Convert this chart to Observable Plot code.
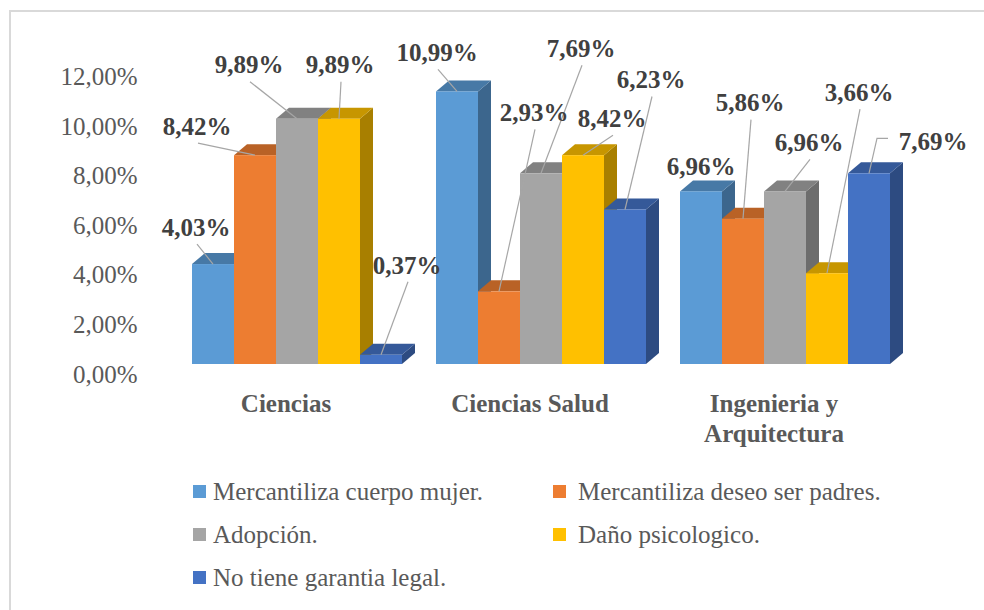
<!DOCTYPE html>
<html><head><meta charset="utf-8">
<script src="https://cdn.jsdelivr.net/npm/d3@7"></script>
<script src="https://cdn.jsdelivr.net/npm/@observablehq/plot@0.6"></script>
<style>
body{margin:0;background:#fff;width:984px;height:610px;overflow:hidden;position:relative;}
#frame{position:absolute;left:9px;top:10px;width:1000px;height:640px;border-top:2px solid #D9D9D9;border-left:2px solid #D9D9D9;}
#chart{position:absolute;left:0;top:0;}
#legend{position:absolute;left:0;top:0;font-family:"Times New Roman","Liberation Serif",Tinos,"DejaVu Serif",serif;font-size:25px;color:#595959;}
svg text{font-family:"Times New Roman","Liberation Serif",Tinos,"DejaVu Serif",serif;}
.item{position:absolute;white-space:nowrap;line-height:1;}
.sw{position:absolute;width:13px;height:13px;}
</style></head><body>
<div id="frame"></div>
<div id="chart"></div>
<div id="legend"></div>
<script>
const categories = ["Ciencias", "Ciencias Salud", "Ingenieria y Arquitectura"];
const categoryLabels = ["Ciencias", "Ciencias Salud", "Ingenieria y\nArquitectura"];
const series = ["Mercantiliza cuerpo mujer.", "Mercantiliza deseo ser padres.", "Adopción.", "Daño psicologico.", "No tiene garantia legal."];
const ciencias = [4.03, 8.42, 9.89, 9.89, 0.37];
const cienciasSalud = [10.99, 2.93, 7.69, 8.42, 6.23];
const ingenieria = [6.96, 5.86, 6.96, 3.66, 7.69];
const yTicks = [0, 2, 4, 6, 8, 10, 12];
const colors = ["#5B9BD5", "#ED7D31", "#A5A5A5", "#FFC000", "#4472C4"];

// label placement (pixel offsets from the top-front centre of each bar) and leader style
const labelOffsets = [
  [-17, -37], [-58, -29], [-48, -54], [1, -54], [26, -90],
  [-20, -39], [35, -179], [40, -125], [29, -37], [26, -130],
  [0, -25], [7, -116], [24, -49], [32, -181], [64, -32]
];
const leaderStyles = [
  "line", "line", "line", "line", "line",
  "line", "line", "line", "line", "line",
  "none", "line", "line", "line", "elbow"
];

const seriesValues = [ciencias, cienciasSalud, ingenieria];
const data = categories.flatMap((c, ci) => series.map((s, si) => ({category: c, series: s, value: seriesValues[ci][si]})));
const fmt = v => v.toFixed(2).replace(".", ",") + "%";
const FONT = '"Times New Roman", "Liberation Serif", Tinos, "DejaVu Serif", serif';

const DX = 13, DY = 11;
function scaleColor(c, k) {
  const r = d3.rgb(c);
  return d3.rgb(r.r * k, r.g * k, r.b * k).formatHex();
}
const pts = a => a.map(p => p.join(",")).join(" ");

function geom(i, scales, values) {
  const bw = scales.x && scales.x.bandwidth ? scales.x.bandwidth() : 0;
  const x1 = values.x[i], x2 = values.x[i] + bw;
  const yb = Math.max(values.y1[i], values.y2[i]), yt = Math.min(values.y1[i], values.y2[i]);
  return {x1, x2, yb, yt};
}

const bars3d = Plot.barY(data, {
  fx: "category", x: "series", y: "value", fill: "series",
  render(index, scales, values) {
    const g = d3.create("svg:g");
    const idx = Array.from(index).sort((a, b) => values.x[a] - values.x[b]);
    for (const i of idx) {
      const {x1, x2, yb, yt} = geom(i, scales, values);
      const c = values.fill[i];
      g.append("polygon").attr("points", pts([[x2, yb], [x2 + DX, yb - DY], [x2 + DX, yt - DY], [x2, yt]])).attr("fill", scaleColor(c, 0.66));
      g.append("polygon").attr("points", pts([[x1, yt], [x1 + DX, yt - DY], [x2 + DX, yt - DY], [x2, yt]])).attr("fill", scaleColor(c, 0.78));
      g.append("rect").attr("x", x1).attr("y", yt).attr("width", x2 - x1).attr("height", yb - yt).attr("fill", c);
    }
    return g.node();
  }
});

const leaders = Plot.barY(data, {
  fx: "category", x: "series", y: "value",
  render(index, scales, values) {
    const g = d3.create("svg:g").attr("fill", "none").attr("stroke", "#A6A6A6").attr("stroke-width", 1.2);
    for (const i of index) {
      const {x1, x2, yt} = geom(i, scales, values);
      const bx = (x1 + x2) / 2, by = yt;
      const [ox, oy] = labelOffsets[i];
      const lx = bx + ox, ly = by + oy;
      if (leaderStyles[i] === "none") continue;
      if (leaderStyles[i] === "elbow") {
        g.append("path").attr("d", `M${lx - 45},${ly - 3}H${lx - 56}L${bx},${by}`);
      } else {
        g.append("path").attr("d", `M${lx + 1},${ly + 17}L${bx},${by}`);
      }
    }
    return g.node();
  }
});

const labels = Plot.barY(data, {
  fx: "category", x: "series", y: "value",
  render(index, scales, values) {
    const g = d3.create("svg:g").attr("fill", "#404040").attr("font-weight", "bold")
      .attr("font-size", 25).attr("text-anchor", "middle").attr("font-family", FONT);
    for (const i of index) {
      const {x1, x2, yt} = geom(i, scales, values);
      const bx = (x1 + x2) / 2, by = yt;
      const [ox, oy] = labelOffsets[i];
      g.append("text").attr("x", bx + ox).attr("y", by + oy).attr("dy", "0.35em").text(fmt(data[i].value));
    }
    return g.node();
  }
});

const chart = Plot.plot({
  width: 984, height: 460,
  marginLeft: 189, marginRight: 92, marginTop: 66.4, marginBottom: 96,
  style: {fontFamily: FONT, background: "transparent", overflow: "visible"},
  fx: {domain: categories, paddingInner: 0.127, paddingOuter: 0, axis: null},
  x: {domain: series, padding: 0, axis: null},
  y: {domain: [0, 12]},
  color: {domain: series, range: colors},
  marks: [
    Plot.axisY({ticks: yTicks, tickFormat: fmt, tickSize: 0, tickPadding: 53, dy: 10, fontSize: 25, fill: "#595959", label: null}),
    bars3d,
    leaders,
    labels,
    Plot.text(categories, {fx: d => d, text: (d, i) => categoryLabels[i], frameAnchor: "bottom", lineAnchor: "top",
      dy: 26, dx: -11, fontSize: 25, fontWeight: "bold", fill: "#595959", lineHeight: 1.2})
  ]
});
document.getElementById("chart").appendChild(chart);

// legend
const legend = document.getElementById("legend");
const swLeft = [193, 553], textLeft = [213, 578];
series.forEach((s, i) => {
  const col = i % 2, row = Math.floor(i / 2);
  const cy = 492 + 43 * row;
  const sw = document.createElement("div");
  sw.className = "sw"; sw.style.left = swLeft[col] + "px"; sw.style.top = (cy - 7) + "px"; sw.style.background = colors[i];
  legend.appendChild(sw);
  const t = document.createElement("div");
  t.className = "item"; t.style.left = textLeft[col] + "px"; t.style.top = (cy - 13) + "px"; t.textContent = s;
  legend.appendChild(t);
});
</script>
</body></html>
